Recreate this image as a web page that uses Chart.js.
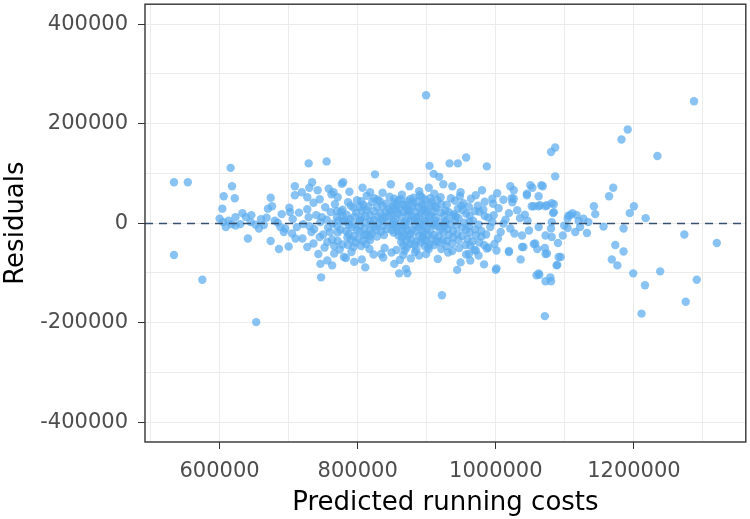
<!DOCTYPE html>
<html>
<head>
<meta charset="utf-8">
<script src="https://cdn.jsdelivr.net/npm/chart.js@4/dist/chart.umd.min.js"></script>
<style>
  html, body { margin: 0; padding: 0; background: #fff; }
  #wrap { width: 750px; height: 519px; }
</style>
</head>
<body>
<div id="wrap"><canvas id="chart-resid"></canvas></div>
<script>
// residuals vs predicted running costs
const xTicks = [500000, 600000, 700000, 800000, 900000, 1000000, 1100000, 1200000, 1300000];
const xLabelled = [600000, 800000, 1000000, 1200000];
const yTicks = [-400000, -300000, -200000, -100000, 0, 100000, 200000, 300000, 400000];
const yLabelled = [-400000, -200000, 0, 200000, 400000];

const leftTail = [
  [534e3, 82e3], [554e3, 82e3], [534e3, -64e3], [575e3, -114e3], [653e3, -199e3], [616e3, 111e3],
  [618e3, 74e3], [606e3, 54e3], [622e3, 50e3], [604e3, 29e3], [600e3, 9e3], [609e3, -8e3],
  [613e3, 5e3], [623e3, 12e3], [633e3, 20e3], [638e3, 12e3], [646e3, 16e3], [652e3, -3e3],
  [657e3, -11e3], [641e3, -31e3], [623e3, -5e3], [674e3, 51e3], [676e3, 34e3], [670e3, 29e3],
  [674e3, -36e3], [686e3, -52e3], [700e3, -47e3], [680e3, 5e3], [688e3, -8e3], [693e3, -18e3],
  [702e3, 22e3], [664e3, -4e3], [630e3, -2e3], [645e3, 2e3], [660e3, 8e3], [617e3, -2e3], [605e3, 2e3],
];

const midLeft = [
  [709e3, 74e3], [709e3, 56e3], [719e3, 62e3], [729e3, 120e3], [755e3, 124e3], [734e3, 82e3],
  [730e3, 71e3], [742e3, 66e3], [727e3, 52e3], [758e3, 69e3], [765e3, 62e3], [777e3, 79e3], [779e3, 82e3],
  [743e3, -62e3], [746e3, -82e3], [756e3, -75e3], [763e3, -85e3], [747e3, -109e3], [727e3, -48e3],
  [710e3, -31e3], [780e3, -68e3], [795e3, -78e3], [811e3, -89e3],
];

const centreOuter = [
  [899e3, 257e3], [922e3, -145e3], [904e3, 115e3], [910e3, 99e3], [918e3, 93e3], [933e3, 120e3],
  [945e3, 120e3], [957e3, 132e3], [987e3, 114e3], [825e3, 98e3], [848e3, 78e3], [875e3, 74e3],
  [807e3, 71e3], [818e3, 62e3], [903e3, 71e3], [924e3, 78e3], [937e3, 74e3], [948e3, 54e3],
  [980e3, 66e3], [995e3, 49e3], [1021e3, 74e3], [1026e3, 66e3], [1045e3, 56e3], [1026e3, 49e3],
  [1055e3, 34e3], [860e3, -101e3], [872e3, -101e3], [853e3, -82e3], [870e3, -92e3], [944e3, -94e3],
  [949e3, -79e3], [963e3, -75e3], [983e3, -83e3], [1000e3, -94e3], [1036e3, -73e3], [1059e3, -105e3],
  [834e3, -62e3], [889e3, -65e3], [903e3, -52e3], [937e3, -56e3], [961e3, -62e3], [975e3, -65e3],
  [1019e3, -56e3], [1040e3, -48e3],
];

const core = [
  [762e3, 58e3], [788e3, 63e3], [813e3, 55e3], [836e3, 61e3], [864e3, 57e3], [889e3, 64e3], [911e3, 59e3],
  [949e3, 62e3], [971e3, 56e3], [1002e3, 60e3], [745e3, 48e3], [771e3, 52e3], [799e3, 46e3], [824e3, 50e3],
  [846e3, 53e3], [859e3, 45e3], [881e3, 51e3], [897e3, 47e3], [920e3, 52e3], [941e3, 45e3], [964e3, 49e3],
  [984e3, 43e3], [1011e3, 47e3], [736e3, 41e3], [767e3, 38e3], [786e3, 42e3], [808e3, 37e3], [821e3, 43e3],
  [841e3, 39e3], [852e3, 41e3], [869e3, 36e3], [885e3, 43e3], [896e3, 38e3], [907e3, 42e3], [929e3, 37e3],
  [953e3, 40e3], [974e3, 35e3], [996e3, 39e3], [1024e3, 42e3],
  [701e3, 31e3], [727e3, 28e3], [753e3, 32e3], [778e3, 27e3], [794e3, 31e3], [812e3, 26e3], [828e3, 32e3],
  [845e3, 28e3], [860e3, 30e3], [875e3, 26e3], [888e3, 32e3], [901e3, 27e3], [914e3, 31e3], [927e3, 25e3],
  [945e3, 29e3], [961e3, 33e3], [982e3, 27e3], [1004e3, 30e3], [1031e3, 26e3],
  [690e3, 18e3], [715e3, 21e3], [740e3, 16e3], [761e3, 22e3], [784e3, 17e3], [798e3, 21e3], [818e3, 16e3],
  [833e3, 20e3], [850e3, 17e3], [867e3, 22e3], [878e3, 15e3], [892e3, 20e3], [906e3, 16e3], [921e3, 21e3],
  [937e3, 15e3], [957e3, 19e3], [976e3, 23e3], [997e3, 16e3], [1019e3, 20e3], [1042e3, 17e3],
  [668e3, 11e3], [706e3, 8e3], [729e3, 12e3], [755e3, 7e3], [770e3, 12e3], [789e3, 8e3], [805e3, 11e3],
  [824e3, 6e3], [839e3, 12e3], [855e3, 9e3], [870e3, 5e3], [885e3, 11e3], [897e3, 7e3], [913e3, 12e3],
  [929e3, 6e3], [946e3, 10e3], [967e3, 5e3], [989e3, 11e3], [1014e3, 7e3], [1035e3, 10e3],
  [684e3, 1e3], [721e3, -2e3], [746e3, 2e3], [764e3, -1e3], [780e3, 3e3], [796e3, -3e3], [812e3, 1e3],
  [830e3, -2e3], [845e3, 2e3], [861e3, -1e3], [876e3, 3e3], [890e3, -3e3], [905e3, 0], [919e3, 2e3],
  [934e3, -2e3], [954e3, 1e3], [975e3, -3e3], [995e3, 2e3], [1011e3, -1e3],
  [695e3, -11e3], [712e3, -8e3], [737e3, -12e3], [757e3, -9e3], [775e3, -13e3], [792e3, -8e3], [810e3, -11e3],
  [825e3, -7e3], [842e3, -12e3], [857e3, -9e3], [872e3, -13e3], [888e3, -8e3], [900e3, -11e3], [916e3, -7e3],
  [930e3, -12e3], [951e3, -9e3], [970e3, -13e3], [992e3, -8e3], [1021e3, -11e3],
  [705e3, -21e3], [733e3, -18e3], [750e3, -23e3], [771e3, -19e3], [787e3, -22e3], [803e3, -17e3], [820e3, -21e3],
  [838e3, -24e3], [852e3, -19e3], [867e3, -22e3], [883e3, -17e3], [895e3, -21e3], [911e3, -24e3], [924e3, -18e3],
  [944e3, -22e3], [962e3, -19e3], [986e3, -23e3], [1007e3, -18e3], [1027e3, -21e3],
  [720e3, -31e3], [745e3, -28e3], [763e3, -33e3], [785e3, -29e3], [801e3, -32e3], [817e3, -27e3], [864e3, -29e3],
  [878e3, -33e3], [894e3, -28e3], [907e3, -31e3], [923e3, -34e3], [938e3, -29e3], [959e3, -32e3], [979e3, -27e3],
  [1003e3, -31e3],
  [736e3, -41e3], [756e3, -38e3], [778e3, -43e3], [797e3, -39e3], [812e3, -42e3], [863e3, -38e3], [876e3, -42e3],
  [891e3, -39e3], [904e3, -43e3], [918e3, -38e3], [937e3, -41e3], [956e3, -44e3], [976e3, -39e3], [998e3, -42e3],
  [752e3, -49e3], [774e3, -53e3], [794e3, -48e3], [817e3, -52e3], [839e3, -50e3], [856e3, -54e3], [871e3, -49e3],
  [885e3, -53e3], [902e3, -48e3], [921e3, -52e3], [947e3, -50e3], [969e3, -54e3], [989e3, -49e3],
  [766e3, -61e3], [791e3, -58e3], [823e3, -63e3], [849e3, -59e3], [866e3, -64e3], [883e3, -58e3], [899e3, -62e3],
  [931e3, -59e3], [957e3, -63e3],
  [783e3, -70e3], [806e3, -73e3], [837e3, -69e3], [861e3, -74e3], [877e3, -71e3], [916e3, -72e3],
  [848e3, 24e3], [856e3, 36e3], [863e3, 14e3], [871e3, 29e3], [880e3, 40e3], [887e3, 3e3], [893e3, -15e3],
  [858e3, -16e3], [866e3, -5e3], [873e3, -27e3], [882e3, -44e3], [850e3, -3e3], [835e3, 8e3], [827e3, -14e3],
  [815e3, 33e3], [803e3, 4e3], [818e3, -34e3], [899e3, 22e3], [909e3, -2e3], [884e3, 23e3], [876e3, 48e3],
  [862e3, 48e3], [890e3, 56e3], [905e3, 50e3], [868e3, -55e3], [895e3, -33e3], [912e3, 33e3], [926e3, -6e3],
  [940e3, 18e3], [832e3, 44e3], [809e3, -24e3], [790e3, -33e3], [779e3, 5e3], [770e3, 24e3], [760e3, -18e3],
  [748e3, 12e3], [730e3, -6e3],
];

// second, staggered layer of the dense middle
const coreInner = [
  [805e3, 44e3], [829e3, 47e3], [853e3, 49e3], [872e3, 44e3], [893e3, 52e3], [915e3, 46e3], [935e3, 50e3],
  [790e3, 35e3], [803e3, 33e3], [836e3, 35e3], [851e3, 33e3], [866e3, 37e3], [879e3, 34e3], [893e3, 36e3],
  [906e3, 35e3], [921e3, 38e3], [950e3, 35e3],
  [776e3, 23e3], [806e3, 25e3], [823e3, 24e3], [840e3, 22e3], [856e3, 26e3], [873e3, 24e3], [896e3, 25e3],
  [910e3, 23e3], [932e3, 22e3], [952e3, 26e3], [970e3, 24e3],
  [778e3, 15e3], [795e3, 13e3], [811e3, 14e3], [829e3, 13e3], [845e3, 15e3], [858e3, 19e3], [874e3, 16e3],
  [889e3, 14e3], [903e3, 12e3], [925e3, 15e3], [942e3, 13e3], [962e3, 15e3], [984e3, 14e3],
  [772e3, 5e3], [786e3, 2e3], [803e3, 6e3], [818e3, 4e3], [836e3, 5e3], [852e3, 4e3], [868e3, 2e3],
  [882e3, 6e3], [898e3, 4e3], [912e3, 5e3], [927e3, 3e3], [941e3, 5e3], [962e3, 3e3],
  [770e3, -6e3], [787e3, -4e3], [804e3, -5e3], [820e3, -3e3], [837e3, -6e3], [853e3, -4e3], [869e3, -7e3],
  [883e3, -3e3], [896e3, -5e3], [911e3, -4e3], [925e3, -3e3], [943e3, -5e3], [961e3, -6e3],
  [783e3, -16e3], [799e3, -14e3], [817e3, -15e3], [834e3, -17e3], [849e3, -14e3], [864e3, -16e3], [879e3, -14e3],
  [905e3, -16e3], [920e3, -13e3], [938e3, -16e3], [957e3, -14e3], [979e3, -16e3],
  [794e3, -26e3], [812e3, -24e3], [828e3, -27e3], [859e3, -25e3], [876e3, -22e3], [889e3, -26e3], [902e3, -24e3],
  [917e3, -27e3], [932e3, -24e3], [951e3, -26e3], [971e3, -25e3],
  [771e3, -36e3], [808e3, -36e3], [870e3, -35e3], [885e3, -37e3], [899e3, -35e3], [914e3, -37e3], [929e3, -36e3],
  [946e3, -34e3], [966e3, -37e3],
  [766e3, -46e3], [786e3, -44e3], [805e3, -46e3], [866e3, -45e3], [897e3, -46e3], [911e3, -44e3], [928e3, -46e3],
  [963e3, -45e3], [983e3, -44e3],
];

const rightTail = [
  [1287e3, 245e3], [1191e3, 188e3], [1182e3, 168e3], [1234e3, 135e3], [1086e3, 152e3], [1080e3, 143e3],
  [1086e3, 94e3], [1170e3, 71e3], [1164e3, 54e3], [1200e3, 34e3], [1194e3, 20e3], [1217e3, 10e3],
  [1142e3, 34e3], [1144e3, 18e3], [1156e3, -7e3], [1185e3, -11e3], [1273e3, -23e3], [1320e3, -40e3],
  [1173e3, -44e3], [1185e3, -57e3], [1168e3, -73e3], [1176e3, -85e3], [1199e3, -101e3], [1238e3, -97e3],
  [1291e3, -114e3], [1216e3, -125e3], [1275e3, -158e3], [1211e3, -182e3], [1071e3, -187e3], [1063e3, -104e3],
  [1072e3, -117e3], [1080e3, -117e3], [1089e3, -84e3], [1094e3, -68e3], [1072e3, -62e3], [1071e3, -50e3],
  [1060e3, -52e3], [1055e3, -42e3], [1081e3, -28e3], [1097e3, -25e3], [1132e3, -20e3], [1038e3, -25e3],
  [1048e3, -15e3], [1072e3, -25e3], [1080e3, -11e3], [1104e3, -10e3], [1115e3, -18e3], [1108e3, 16e3],
  [1117e3, 16e3], [1127e3, 9e3], [1134e3, 2e3], [1104e3, 9e3], [1120e3, 4e3], [1081e3, 2e3], [1083e3, 20e3],
  [1084e3, 38e3], [1052e3, 34e3], [1062e3, 34e3], [1072e3, 34e3], [1045e3, 59e3], [1053e3, 71e3],
  [1068e3, 74e3], [1062e3, 54e3], [1111e3, 20e3], [1099e3, -5e3], [1122e3, -8e3], [1062e3, -8e3],
  [1046e3, 5e3], [1090e3, -40e3], [1050e3, 76e3], [1066e3, 76e3], [1023e3, 50e3], [1064e3, 36e3],
  [1074e3, 36e3], [1081e3, 40e3], [1084e3, 22e3], [1105e3, 15e3], [971e3, -55e3], [987e3, -51e3],
  [1001e3, -55e3], [1019e3, -58e3], [1038e3, -48e3], [1057e3, -41e3], [1074e3, -61e3], [1091e3, -68e3],
  [1088e3, -85e3], [1001e3, -91e3], [1062e3, -101e3], [1079e3, -109e3],
];

const groups = [leftTail, midLeft, core, coreInner, centreOuter, rightTail];

const pointFill = 'rgba(92,172,238,0.72)';
const gridCol = '#ebebeb';
const axisText = '#4d4d4d';
const fontFam = 'DejaVu Sans, Liberation Sans, Arial, sans-serif';

const toXY = (arr) => arr.map(([x, y]) => ({ x, y }));

const zeroLine = {
  id: 'zeroLine',
  afterDatasetsDraw(chart) {
    const { ctx, chartArea, scales } = chart;
    const y = Math.round(scales.y.getPixelForValue(0)) + 0.5;
    ctx.save();
    ctx.strokeStyle = '#34506e';
    ctx.lineWidth = 1.5;
    ctx.setLineDash([8, 6]);
    ctx.beginPath();
    ctx.moveTo(chartArea.left, y);
    ctx.lineTo(chartArea.right, y);
    ctx.stroke();
    ctx.restore();
  },
  afterDraw(chart) {
    const { ctx, chartArea } = chart;
    ctx.save();
    ctx.strokeStyle = '#333333';
    ctx.lineWidth = 1.4;
    ctx.strokeRect(chartArea.left, chartArea.top, chartArea.right - chartArea.left, chartArea.bottom - chartArea.top);
    ctx.restore();
  },
};

new Chart(document.getElementById('chart-resid'), {
  type: 'scatter',
  data: {
    datasets: groups.map((g) => ({
      data: toXY(g),
      backgroundColor: pointFill,
      borderWidth: 0,
      pointRadius: 4.2,
      pointHoverRadius: 4.2,
    })),
  },
  options: {
    responsive: true,
    maintainAspectRatio: false,
    animation: false,
    events: [],
    layout: { padding: { top: 4, right: 2, left: 0, bottom: 0 } },
    plugins: { legend: { display: false }, tooltip: { enabled: false } },
    scales: {
      x: {
        type: 'linear',
        min: 492000,
        max: 1362000,
        afterBuildTicks: (s) => { s.ticks = xTicks.map((v) => ({ value: v })); },
        afterFit: (s) => { s.height = 77; s.paddingLeft = 0; s.paddingRight = 0; },
        border: { display: false },
        grid: {
          color: gridCol,
          tickLength: 7,
          tickColor: (c) => (xLabelled.includes(c.tick.value) ? '#333333' : 'rgba(0,0,0,0)'),
        },
        ticks: {
          color: axisText,
          font: { family: fontFam, size: 21 },
          padding: 10,
          maxRotation: 0,
          autoSkip: false,
          callback: (v) => (xLabelled.includes(v) ? String(v) : ''),
        },
        title: {
          display: true,
          text: 'Predicted running costs',
          color: '#000',
          font: { family: fontFam, size: 26 },
          padding: { top: 0, bottom: 0 },
        },
      },
      y: {
        type: 'linear',
        min: -440000,
        max: 440000,
        afterBuildTicks: (s) => { s.ticks = yTicks.map((v) => ({ value: v })); },
        afterFit: (s) => { s.width = 145; s.paddingTop = 0; s.paddingBottom = 0; },
        border: { display: false },
        grid: {
          color: gridCol,
          tickLength: 7,
          tickColor: (c) => (yLabelled.includes(c.tick.value) ? '#333333' : 'rgba(0,0,0,0)'),
        },
        ticks: {
          color: axisText,
          font: { family: fontFam, size: 21 },
          padding: 10,
          autoSkip: false,
          callback: (v) => (yLabelled.includes(v) ? String(v) : ''),
        },
        title: {
          display: true,
          text: 'Residuals',
          color: '#000',
          font: { family: fontFam, size: 26 },
          padding: { top: 1, bottom: 0 },
        },
      },
    },
  },
  plugins: [zeroLine],
});
</script>
</body>
</html>
